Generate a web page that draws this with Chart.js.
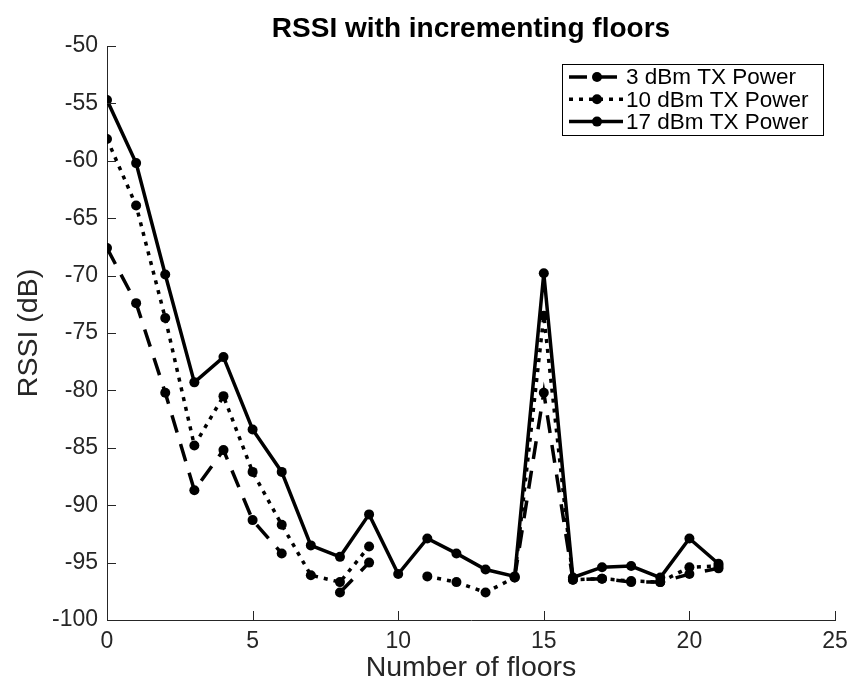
<!DOCTYPE html>
<html>
<head>
<meta charset="utf-8">
<script src="https://cdn.jsdelivr.net/npm/chart.js@4.4.1/dist/chart.umd.min.js"></script>
<style>
  html, body { margin: 0; padding: 0; background: #fff; }
  #wrap { width: 849px; height: 682px; }
</style>
</head>
<body>
<div id="wrap"><canvas id="rssiChart" width="849" height="682"></canvas></div>
<script>
// Data
const floors = [0, 1, 2, 3, 4, 5, 6, 7, 8, 9, 10, 11, 12, 13, 14, 15, 16, 17, 18, 19, 20, 21];
const rssi3dBm = [-67.6, -72.4, -80.2, -88.7, -85.2, -91.3, -94.2, null, -97.6, -95.0, null, null, null, null, -96.3, -80.2, -96.5, -96.4, -96.7, -96.7, -96.0, -95.5];
const rssi10dBm = [-58.1, -63.9, -73.7, -84.8, -80.5, -87.1, -91.7, -96.1, -96.7, -93.6, null, -96.2, -96.7, -97.6, -96.3, -73.5, -96.5, -96.4, -96.6, -96.7, -95.4, -95.3];
const rssi17dBm = [-54.7, -60.2, -69.9, -79.3, -77.1, -83.4, -87.1, -93.5, -94.5, -90.8, -96.0, -92.9, -94.2, -95.6, -96.2, -69.8, -96.3, -95.4, -95.3, -96.3, -92.9, -95.1];
const seriesNames = ['3 dBm TX Power', '10 dBm TX Power', '17 dBm TX Power'];
const xTicks = [0, 5, 10, 15, 20, 25];
const yTicks = [-100, -95, -90, -85, -80, -75, -70, -65, -60, -55, -50];

const FONT = '"Liberation Sans", Arial, Helvetica, sans-serif';
const AXIS_COLOR = '#262626';

function toPoints(values) {
    return floors.map((f, i) => ({ x: f, y: values[i] }));
}

// inward tick marks, title and legend box like the MATLAB figure
const matlabDecor = {
    id: 'matlabDecor',
    afterDraw(chart) {
        const ctx = chart.ctx;
        const xs = chart.scales.x;
        const ys = chart.scales.y;
        const area = chart.chartArea;
        ctx.save();
        ctx.strokeStyle = AXIS_COLOR;
        ctx.lineWidth = 1;
        xTicks.forEach(v => {
            const px = Math.round(xs.getPixelForValue(v)) + 0.5;
            ctx.beginPath();
            ctx.moveTo(px, area.bottom);
            ctx.lineTo(px, area.bottom - 9);
            ctx.stroke();
        });
        yTicks.forEach(v => {
            const py = Math.round(ys.getPixelForValue(v)) + 0.5;
            ctx.beginPath();
            ctx.moveTo(area.left, py);
            ctx.lineTo(area.left + 9, py);
            ctx.stroke();
        });

        // title
        ctx.fillStyle = '#000';
        ctx.font = 'bold 28px ' + FONT;
        ctx.textAlign = 'center';
        ctx.textBaseline = 'middle';
        ctx.fillText('RSSI with incrementing floors', (area.left + area.right) / 2, 29);

        // legend
        const bx = 562, by = 64, bw = 261, bh = 71;
        ctx.fillStyle = '#fff';
        ctx.fillRect(bx, by, bw, bh);
        ctx.strokeStyle = '#000';
        ctx.strokeRect(bx + 0.5, by + 0.5, bw, bh);
        ctx.font = '22.5px ' + FONT;
        ctx.textAlign = 'left';
        chart.data.datasets.forEach((ds, i) => {
            const cy = by + 13 + i * 22.3;
            ctx.save();
            ctx.strokeStyle = '#000';
            ctx.lineWidth = ds.borderWidth;
            ctx.setLineDash(ds.borderDash || []);
            ctx.beginPath();
            ctx.moveTo(bx + 7, cy);
            ctx.lineTo(bx + 61, cy);
            ctx.stroke();
            ctx.restore();
            ctx.fillStyle = '#000';
            ctx.beginPath();
            ctx.arc(bx + 35, cy, ds.pointRadius, 0, Math.PI * 2);
            ctx.fill();
            ctx.fillText(ds.label, bx + 64, cy + 1);
        });
        ctx.restore();
    }
};

function initRssiChart() {
    const ctx = document.getElementById('rssiChart').getContext('2d');
    new Chart(ctx, {
        type: 'line',
        data: {
            datasets: [{
                label: seriesNames[0],
                data: toPoints(rssi3dBm),
                borderColor: '#000',
                backgroundColor: '#000',
                borderWidth: 3.5,
                borderDash: [18, 12],
                pointRadius: 5,
                pointBackgroundColor: '#000',
                pointBorderWidth: 0,
                order: 2,
                spanGaps: false
            }, {
                label: seriesNames[1],
                data: toPoints(rssi10dBm),
                borderColor: '#000',
                backgroundColor: '#000',
                borderWidth: 3.5,
                borderDash: [4, 6],
                pointRadius: 5,
                pointBackgroundColor: '#000',
                pointBorderWidth: 0,
                order: 1,
                spanGaps: false
            }, {
                label: seriesNames[2],
                data: toPoints(rssi17dBm),
                borderColor: '#000',
                backgroundColor: '#000',
                borderWidth: 3.5,
                pointRadius: 5,
                pointBackgroundColor: '#000',
                pointBorderWidth: 0,
                order: 0,
                spanGaps: false
            }]
        },
        options: {
            responsive: false,
            animation: false,
            layout: {
                padding: { top: 46, right: 14, left: 0, bottom: 0 }
            },
            plugins: {
                legend: { display: false },
                title: { display: false },
                tooltip: { enabled: false }
            },
            scales: {
                x: {
                    type: 'linear',
                    min: 0,
                    max: 25,
                    afterFit: scale => {
                        scale.height = 62;
                        scale.paddingLeft = 0;
                        scale.paddingRight = 0;
                    },
                    afterBuildTicks: scale => { scale.ticks = xTicks.map(v => ({ value: v })); },
                    grid: { display: false, drawTicks: false },
                    border: { display: true, color: AXIS_COLOR, width: 1 },
                    ticks: {
                        color: '#262626',
                        font: { family: FONT, size: 23 },
                        padding: 8,
                        maxRotation: 0
                    },
                    title: {
                        display: true,
                        text: 'Number of floors',
                        color: '#262626',
                        font: { family: FONT, size: 28.5 },
                        padding: { top: 0, bottom: -3 }
                    }
                },
                y: {
                    type: 'linear',
                    min: -100,
                    max: -50,
                    afterFit: scale => {
                        scale.width = 107;
                        scale.paddingTop = 0;
                        scale.paddingBottom = 0;
                    },
                    afterBuildTicks: scale => { scale.ticks = yTicks.map(v => ({ value: v })); },
                    grid: { display: false, drawTicks: false },
                    border: { display: true, color: AXIS_COLOR, width: 1 },
                    ticks: {
                        color: '#262626',
                        font: { family: FONT, size: 23 },
                        padding: 9
                    },
                    title: {
                        display: true,
                        text: 'RSSI (dB)',
                        color: '#262626',
                        font: { family: FONT, size: 28.5 },
                        padding: { top: 12, bottom: 0 }
                    }
                }
            }
        },
        plugins: [matlabDecor]
    });
}

window.addEventListener('load', () => {
    initRssiChart();
});
</script>
</body>
</html>
